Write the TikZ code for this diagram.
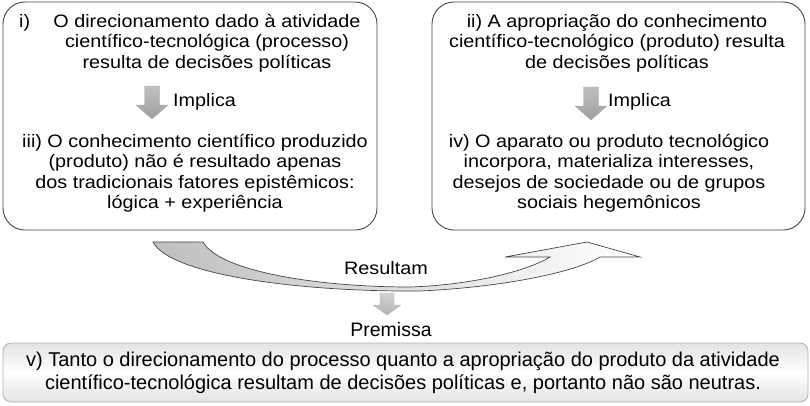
\documentclass[tikz,border=0pt]{standalone}
\usepackage{fontspec}
\setmainfont{Liberation Sans}
\newfontfamily\widefont[FakeStretch=1.1]{Liberation Sans}
\begin{document}
\begin{tikzpicture}[x=1pt,y=-1pt,
  bigbox/.style={draw=gray!55!black, line width=0.9pt, rounded corners=22pt, fill=white},
  wtxt/.style={font=\widefont\fontsize{18}{20.5}\selectfont, align=center, inner sep=0pt},
  ntxt/.style={font=\fontsize{20}{23}\selectfont, align=center, inner sep=0pt},
  darkarrow/.style={draw=gray!65, line width=0.4pt, top color=gray!50, bottom color=gray!75},
  lightarrow/.style={draw=gray!55, line width=0.4pt, top color=gray!35, bottom color=gray!60},
  blockdown/.pic={\path[pic actions] (-7.5,0) -- (7.5,0) -- (7.5,19) -- (16,19) -- (0,33) -- (-16,19) -- (-7.5,19) -- cycle;},
  smalldown/.pic={\path[pic actions] (-7,0) -- (7,0) -- (7,12) -- (14,12) -- (0,22) -- (-14,12) -- (-7,12) -- cycle;}
]
\useasboundingbox (0,0) rectangle (810,405);
\fill[white] (0,0) rectangle (810,405);

% top boxes
\draw[bigbox] (3,2) rectangle (377,230);
\draw[bigbox] (432,2) rectangle (805,230);

% left box texts
\node[wtxt, anchor=west] (lab1) at (19,23) {i)};
\node[wtxt] (t1) at (207,43) {O direcionamento dado à atividade\\científico-tecnológica (processo)\\resulta de decisões políticas};
\pic[darkarrow] (a1) at (152,86) {blockdown};
\node[wtxt, anchor=west] (imp1) at (173,102) {Implica};
\node[wtxt] (t3) at (195,173) {iii) O conhecimento científico produzido\\(produto) não é resultado apenas\\dos tradicionais fatores epistêmicos:\\lógica + experiência};

% right box texts
\node[wtxt] (t2) at (617,43) {ii) A apropriação do conhecimento\\científico-tecnológico (produto) resulta\\de decisões políticas};
\pic[darkarrow] (a2) at (591,87) {blockdown};
\node[wtxt, anchor=west] (imp2) at (608,102) {Implica};
\node[wtxt] (t4) at (609,173) {iv) O aparato ou produto tecnológico\\incorpora, materializa interesses,\\desejos de sociedade ou de grupos\\sociais hegemônicos};

% curved arrow
\path[draw=gray!55!black, line width=0.7pt, left color=gray!50, middle color=white, right color=white]
  (153,242) -- (203,242)
  .. controls (220,272) and (320,287) .. (410,287)
  .. controls (470,285) and (525,272) .. (550,257)
  -- (505,257) -- (587,242) -- (640,257) -- (600,257)
  .. controls (575,272) and (505,287) .. (420,291)
  .. controls (300,292) and (170,275) .. (153,242) -- cycle;
\node[wtxt, fill=white, inner sep=2pt] (res) at (386,268) {Resultam};

% premissa
\pic[lightarrow] (a3) at (387,293) {smalldown};
\node[ntxt, font=\fontsize{19.5}{22}\selectfont] (prem) at (391,330) {Premissa};

% bottom box
\draw[draw=gray!60, line width=0.8pt, rounded corners=8pt, top color=gray!22, bottom color=gray!22, middle color=white] (3,343) rectangle (808,402);
\node[ntxt] (t5) at (403,373) {v) Tanto o direcionamento do processo quanto a apropriação do produto da atividade\\científico-tecnológica resultam de decisões políticas e, portanto não são neutras.};
\end{tikzpicture}
\end{document}
